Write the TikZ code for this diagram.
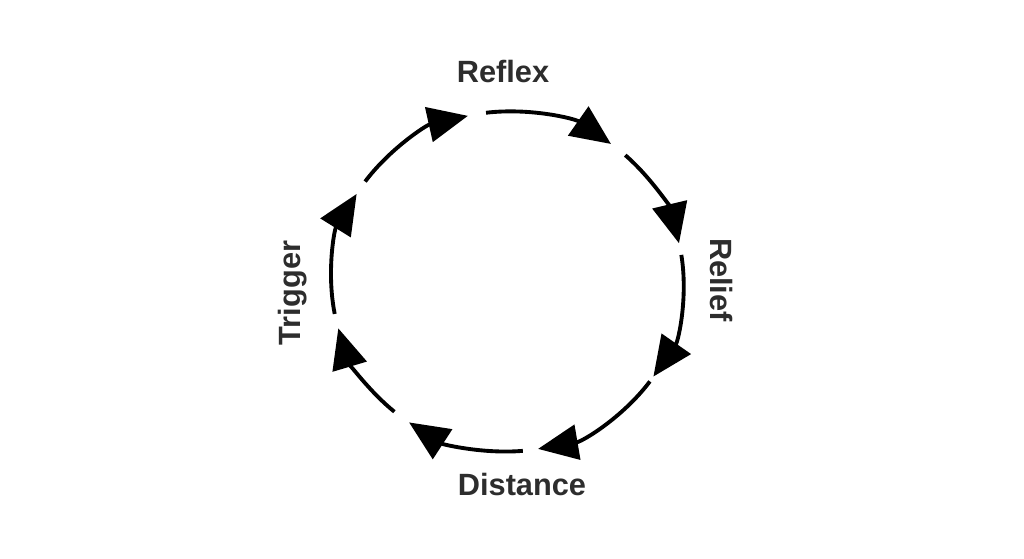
\documentclass[tikz,border=0pt]{standalone}
\usepackage{fontspec}
\setmainfont{Liberation Sans}
\definecolor{labelGray}{RGB}{45,45,45}
\usetikzlibrary{arrows.meta, calc}

\begin{document}
\begin{tikzpicture}[every node/.style={font=\bfseries\fontsize{17.5}{20}\selectfont, text=labelGray}]
        \useasboundingbox (0,0) rectangle (20.48,11.18);
        \coordinate (center) at (10.15,5.55);

        % eight arcs round the cycle, clockwise
        \foreach \s/\e in {97/54, 48/13, 9/-34, -36/-80, -85/-124, -130/-164, -169/-211, -216/-257}
          \draw[line width=2.2pt, -{Triangle[length=0.8cm,width=0.7cm]}]
            ($(center)+(\s:3.52 and 3.40)$) arc[start angle=\s, end angle=\e, x radius=3.52, y radius=3.40];

        \node (reflex) at (10.06,9.74) {Reflex};
        \node[rotate=-90] (relief) at (14.42,5.58) {Relief};
        \node (distance) at (10.44,1.48) {Distance};
        \node[rotate=90] (trigger) at (5.86,5.32) {Trigger};
      \end{tikzpicture}
\end{document}
